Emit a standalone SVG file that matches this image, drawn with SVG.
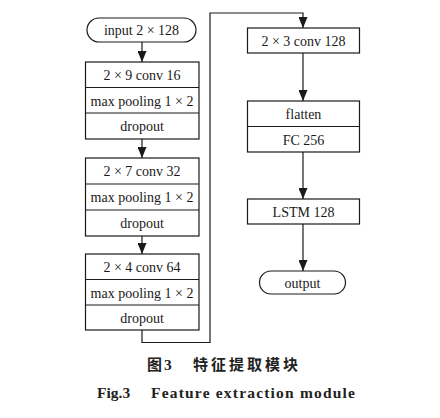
<svg xmlns="http://www.w3.org/2000/svg" width="440" height="418" viewBox="0 0 440 418">
<style>
.b{fill:#fff;stroke:#1a1a1a;stroke-width:1.2}
.d{stroke:#1a1a1a;stroke-width:1.2;fill:none}
.t{font-family:'Liberation Serif','Times New Roman',serif;font-size:14px;fill:#1a1a1a;text-anchor:middle}
.c{stroke:#1a1a1a;stroke-width:1.2;fill:none}
.e{font-family:'Liberation Serif','Times New Roman',serif;font-weight:bold;font-size:15.5px;fill:#222}
.z{font-family:'Noto Sans CJK SC',sans-serif;font-weight:bold;font-size:15px;fill:#222}
</style>
<defs>
<marker id="ah" viewBox="0 0 11 9" refX="11" refY="4.5" markerWidth="11" markerHeight="9" markerUnits="userSpaceOnUse" orient="auto">
<path d="M0,0 L11,4.5 L0,9 z" fill="#1a1a1a"/>
</marker>
</defs>
<rect width="440" height="418" fill="#fff"/>
<g id="connectors">
<line class="c" x1="142" y1="42" x2="142" y2="62" marker-end="url(#ah)"/>
<line class="c" x1="142" y1="139" x2="142" y2="158" marker-end="url(#ah)"/>
<line class="c" x1="142" y1="236" x2="142" y2="254" marker-end="url(#ah)"/>
<polyline class="c" points="142,330 142,342.5 210,342.5 210,13 303,13 303,28" marker-end="url(#ah)"/>
<line class="c" x1="303" y1="53" x2="303" y2="101" marker-end="url(#ah)"/>
<line class="c" x1="303" y1="152" x2="303" y2="199" marker-end="url(#ah)"/>
<line class="c" x1="303" y1="224" x2="303" y2="271" marker-end="url(#ah)"/>
</g>
<g id="input">
<rect class="b" x="87" y="18" width="109" height="24" rx="12"/>
<text class="t" x="141.5" y="35">input 2 × 128</text>
</g>
<g id="block1">
<rect class="b" x="85.5" y="62" width="113.5" height="77"/>
<line class="d" x1="85.5" y1="87.5" x2="199" y2="87.5"/>
<line class="d" x1="85.5" y1="113" x2="199" y2="113"/>
<text class="t" x="142" y="80">2 × 9 conv 16</text>
<text class="t" x="142" y="105.5">max pooling 1 × 2</text>
<text class="t" x="142" y="131">dropout</text>
</g>
<g id="block2">
<rect class="b" x="85.5" y="158" width="113.5" height="78"/>
<line class="d" x1="85.5" y1="184" x2="199" y2="184"/>
<line class="d" x1="85.5" y1="210" x2="199" y2="210"/>
<text class="t" x="142" y="176">2 × 7 conv 32</text>
<text class="t" x="142" y="202">max pooling 1 × 2</text>
<text class="t" x="142" y="228">dropout</text>
</g>
<g id="block3">
<rect class="b" x="85.5" y="254" width="113.5" height="76"/>
<line class="d" x1="85.5" y1="279.5" x2="199" y2="279.5"/>
<line class="d" x1="85.5" y1="305" x2="199" y2="305"/>
<text class="t" x="142" y="272">2 × 4 conv 64</text>
<text class="t" x="142" y="297.5">max pooling 1 × 2</text>
<text class="t" x="142" y="323">dropout</text>
</g>
<g id="conv128">
<rect class="b" x="247.5" y="28" width="112" height="25"/>
<text class="t" x="303.5" y="45.5">2 × 3 conv 128</text>
</g>
<g id="flatten">
<rect class="b" x="247.5" y="101" width="112" height="51"/>
<line class="d" x1="247.5" y1="126.5" x2="359.5" y2="126.5"/>
<text class="t" x="303.5" y="119">flatten</text>
<text class="t" x="303.5" y="144.5">FC 256</text>
</g>
<g id="lstm">
<rect class="b" x="247.5" y="199" width="112" height="25"/>
<text class="t" x="303.5" y="216.5">LSTM 128</text>
</g>
<g id="output">
<rect class="b" x="259.5" y="271" width="86" height="23" rx="11.5"/>
<text class="t" x="302.5" y="287.5">output</text>
</g>
<g id="caption">
<text class="z" x="147" y="370">图</text>
<text class="e" x="164" y="370" font-size="16">3</text>
<text class="z" x="193" y="370" textLength="105">特征提取模块</text>
<text class="e" x="97" y="398">Fig.3</text>
<text class="e" x="151" y="398" textLength="204">Feature extraction module</text>
</g>
</svg>
